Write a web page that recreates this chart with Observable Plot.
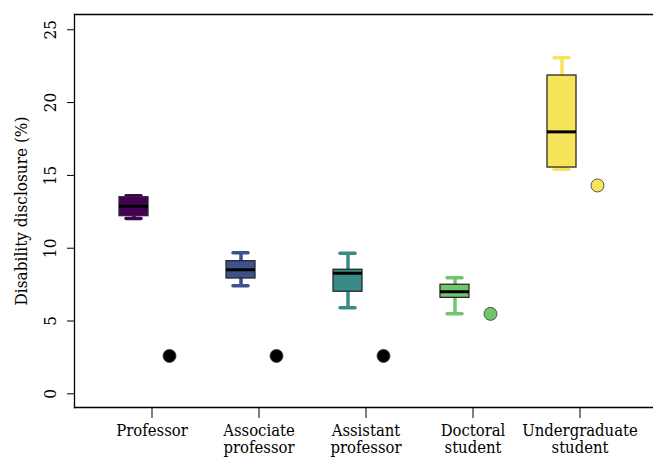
<!DOCTYPE html>
<html><head><meta charset="utf-8">
<script src="https://cdn.jsdelivr.net/npm/d3@7"></script>
<script src="https://cdn.jsdelivr.net/npm/@observablehq/plot@0.6"></script>
<style>body{margin:0;background:#fff}</style>
</head><body><div id="chart"></div>
<script>
const categories = ["Professor", "Associate professor", "Assistant professor", "Doctoral student", "Undergraduate student"];
const tickLabels = ["Professor", "Associate\nprofessor", "Assistant\nprofessor", "Doctoral\nstudent", "Undergraduate\nstudent"];
const whiskerLow  = [12.04, 7.42, 5.91, 5.49, 15.43];
const q1          = [12.20, 7.92, 7.01, 6.59, 15.54];
const median      = [12.88, 8.52, 8.28, 7.01, 17.99];
const q3          = [13.50, 9.11, 8.52, 7.49, 21.86];
const whiskerHigh = [13.60, 9.68, 9.66, 7.97, 23.08];
const pointValues = [2.6, 2.6, 2.6, 5.49, 14.31];
const yTicks = [0, 5, 10, 15, 20, 25];
const boxColors = ["#440154", "#3b528b", "#3a8b87", "#72c56a", "#f6e55a"];
const pointColors = ["#000000", "#000000", "#000000", "#72c56a", "#f6e55a"];

const stats = categories.map((c, i) => ({
  cat: c, lo: whiskerLow[i], q1: q1[i], med: median[i], q3: q3[i], hi: whiskerHigh[i], color: boxColors[i]
}));
const points = categories.map((c, i) => ({cat: c, val: pointValues[i], color: pointColors[i]}));
const labelOf = new Map(categories.map((c, i) => [c, tickLabels[i]]));

const font = "'DejaVu Serif Condensed', 'DejaVu Serif', serif";

const chart = Plot.plot({
  width: 653, height: 460,
  marginLeft: 74, marginRight: 0, marginTop: 14, marginBottom: 53,
  style: {fontFamily: font, fontSize: "17px", background: "#fff"},
  x: {domain: categories, paddingInner: 0.73, paddingOuter: 0.365, insetLeft: 22, insetRight: 18.5},
  y: {domain: [-0.94, 26.05]},
  marks: [
    Plot.frame({anchor: "left", stroke: "#000", strokeWidth: 1.3}),
    Plot.frame({anchor: "top", stroke: "#000", strokeWidth: 1.3}),
    Plot.frame({anchor: "bottom", stroke: "#000", strokeWidth: 1.3}),
    Plot.axisY({ticks: yTicks, tickSize: 7, tickRotate: -90, tickPadding: 12, fontSize: 17,
      label: "Disability disclosure (%)", labelAnchor: "center", labelArrow: "none", labelOffset: 60}),
    Plot.axisX({tickSize: 11, tickPadding: 5, fontSize: 16.5, lineHeight: 1.04, label: null,
      tickFormat: d => labelOf.get(d)}),
    Plot.ruleX(stats, {x: "cat", y1: "lo", y2: "hi", stroke: "color", strokeWidth: 3.5, dx: -18}),
    Plot.tickY(stats, {x: "cat", y: "lo", stroke: "color", strokeWidth: 3.5, strokeLinecap: "round", insetLeft: 7, insetRight: 7, dx: -18}),
    Plot.tickY(stats, {x: "cat", y: "hi", stroke: "color", strokeWidth: 3.5, strokeLinecap: "round", insetLeft: 7, insetRight: 7, dx: -18}),
    Plot.barY(stats, {x: "cat", y1: "q1", y2: "q3", fill: "color", stroke: "#2a2a2a", strokeWidth: 1.3, dx: -18}),
    Plot.tickY(stats, {x: "cat", y: "med", stroke: "#000", strokeWidth: 3, dx: -18}),
    Plot.dot(points, {x: "cat", y: "val", r: 6.5, fill: "color", stroke: "#333", strokeWidth: 0.8, dx: 17.5})
  ]
});
document.getElementById("chart").appendChild(chart);
</script>
</body></html>
